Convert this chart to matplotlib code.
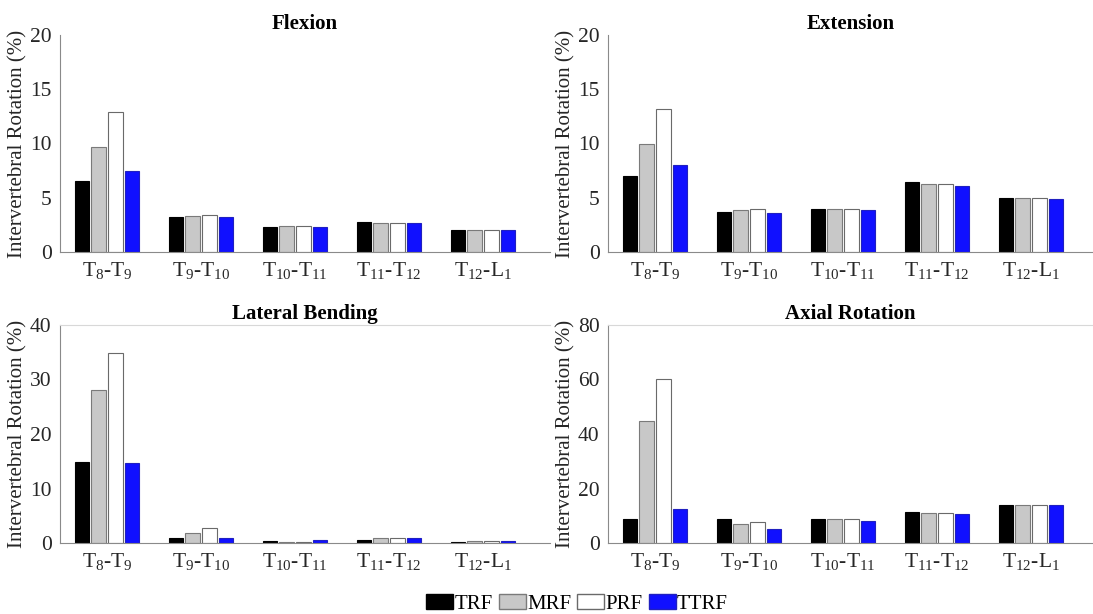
import matplotlib.pyplot as plt
import numpy as np
from matplotlib.patches import Patch

plt.rcParams['font.family'] = ['Liberation Serif', 'DejaVu Serif']
plt.rcParams['mathtext.fontset'] = 'custom'
plt.rcParams['mathtext.rm'] = 'Liberation Serif'
plt.rcParams['mathtext.it'] = 'Liberation Serif'

levels = [r'T$_8$-T$_9$', r'T$_9$-T$_{10}$', r'T$_{10}$-T$_{11}$',
          r'T$_{11}$-T$_{12}$', r'T$_{12}$-L$_1$']
models = ['TRF', 'MRF', 'PRF', 'TTRF']

# rows: levels, columns: TRF, MRF, PRF, TTRF
flexion = [[6.5, 9.7, 12.9, 7.5],
           [3.25, 3.34, 3.4, 3.2],
           [2.27, 2.39, 2.39, 2.33],
           [2.79, 2.7, 2.7, 2.67],
           [2.02, 2.05, 2.05, 2.02]]
extension = [[7.0, 10.0, 13.15, 8.05],
             [3.7, 3.9, 3.99, 3.6],
             [3.93, 3.99, 3.99, 3.83],
             [6.44, 6.29, 6.29, 6.1],
             [4.94, 4.97, 4.97, 4.88]]
lateral = [[14.8, 28.0, 34.9, 14.7],
           [0.92, 1.83, 2.75, 0.85],
           [0.37, 0.18, 0.18, 0.55],
           [0.55, 0.92, 0.92, 0.92],
           [0.18, 0.37, 0.37, 0.37]]
axial = [[8.8, 44.7, 60.3, 12.6],
         [8.8, 6.8, 7.6, 5.25],
         [8.8, 8.8, 8.8, 8.2],
         [11.5, 11.0, 11.0, 10.5],
         [13.9, 13.9, 13.9, 13.8]]

titles = ['Flexion', 'Extension', 'Lateral Bending', 'Axial Rotation']
datasets = [flexion, extension, lateral, axial]
ymax = [20, 20, 40, 80]
ysteps = [5, 5, 10, 20]

faces = ['black', '#c8c8c8', 'white', '#1010ff']
edges = ['black', '#7a7a7a', '#6a6a6a', '#2020c0']

W, H = 1093, 614
fig = plt.figure(figsize=(W / 100, H / 100), dpi=100)
# axes boxes in pixels: left, top, right, bottom
boxes = [(60, 35, 550, 252), (608, 35, 1093, 252),
         (60, 325, 550, 543), (608, 325, 1093, 543)]

x = np.arange(1, 6)
pitch = 0.18
width = 0.15
for i in range(4):
    l, t, r, b = boxes[i]
    ax = fig.add_axes([l / W, 1 - b / H, (r - l) / W, (b - t) / H])
    vals = np.array(datasets[i])
    for j in range(4):
        ax.bar(x + (j - 1.5) * pitch, vals[:, j], width,
               color=faces[j], edgecolor=edges[j], linewidth=0.8)
    ax.set_xlim(0.5, 0.5 + (r - l) / 94.0)
    ax.set_ylim(0, ymax[i])
    ax.set_yticks(np.arange(0, ymax[i] + 1, ysteps[i]))
    ax.set_xticks(x)
    ax.set_xticklabels(levels)
    ax.tick_params(length=0, labelsize=15.5, colors='#262626', pad=6)
    ax.set_ylabel('Intervertebral Rotation (%)', fontsize=15,
                  color='#262626', labelpad=2)
    ax.set_title(titles[i], fontsize=15, fontweight='bold', pad=4)
    for s in ['left', 'bottom']:
        ax.spines[s].set_color('#8a8a8a')
        ax.spines[s].set_linewidth(0.8)
    ax.spines['right'].set_visible(False)
    if i >= 2:
        ax.spines['top'].set_color('#d8d8d8')
        ax.spines['top'].set_linewidth(0.8)
    else:
        ax.spines['top'].set_visible(False)

handles = [Patch(facecolor=faces[j], edgecolor=edges[j], label=models[j])
           for j in range(4)]
fig.legend(handles=handles, loc='lower center', ncol=4,
           bbox_to_anchor=(0.528, -0.03), frameon=False, fontsize=15,
           handlelength=1.3, handleheight=0.75, handletextpad=0.05,
           columnspacing=0.3)

fig.savefig('out.png', dpi=100)
